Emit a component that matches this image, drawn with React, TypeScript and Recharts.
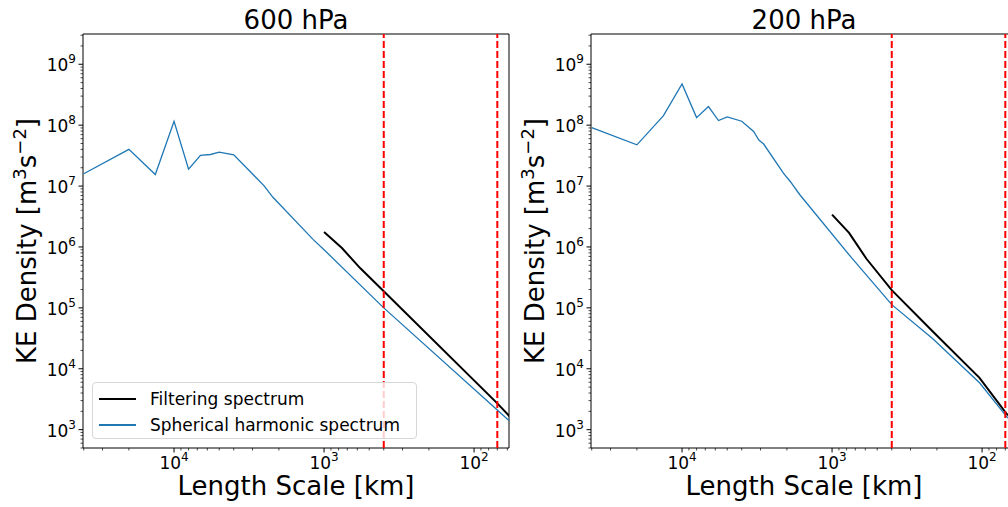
import React from 'react';
import { LineChart, Line, XAxis, YAxis, ReferenceLine, ReferenceArea } from 'recharts';

const FONT = '"DejaVu Sans", Verdana, sans-serif';
const BLUE = '#1f77b4';

// 600 hPa spectra (length scale in km, KE density)
const sh600Km = [40000, 20000, 13333, 10000, 8000, 6667, 5714, 5000, 4000, 2500, 2200, 1180, 1000, 400, 70, 58];
const sh600Ke = [1.59e7, 4.0e7, 1.55e7, 1.16e8, 1.9e7, 3.2e7, 3.3e7, 3.6e7, 3.25e7, 1.0e7, 6.6e6, 1.32e6, 9.0e5, 1.0e5, 2.1e3, 1.38e3];
const filt600Km = [1000, 760, 575, 400, 70, 58];
const filt600Ke = [1.76e6, 9.6e5, 4.5e5, 1.87e5, 2.7e3, 1.65e3];

// 200 hPa spectra
const sh200Km = [40000, 20000, 13333, 10000, 8000, 6667, 5714, 5000, 4000, 3333, 3077, 2857, 2110, 1900, 1640, 740, 400, 213, 104, 69, 58];
const sh200Ke = [9.1e7, 4.75e7, 1.42e8, 4.75e8, 1.33e8, 2.02e8, 1.19e8, 1.37e8, 1.16e8, 7.9e7, 5.7e7, 4.9e7, 1.63e7, 1.19e7, 7.2e6, 6.6e5, 1.13e5, 3.1e4, 5.9e3, 1.67e3, 1.1e3];
const filt200Km = [1000, 770, 590, 400, 213, 104, 69, 58];
const filt200Ke = [3.4e6, 1.7e6, 6.4e5, 1.95e5, 4.1e4, 7.1e3, 1.85e3, 1.25e3];

// dashed cutoff scales
const cutoffKm = [400, 70];

const xDomain: [number, number] = [58.5, 40450];
const yDomain: [number, number] = [500, 3.14e9];
const xMajorTicks = [1e2, 1e3, 1e4];
const yMajorTicks = [1e3, 1e4, 1e5, 1e6, 1e7, 1e8, 1e9];

const minorTicks = (lo: number, hi: number) => {
  const out: number[] = [];
  for (let e = Math.floor(Math.log10(lo)); e <= Math.ceil(Math.log10(hi)); e++) {
    for (let m = 2; m <= 9; m++) {
      const v = m * Math.pow(10, e);
      if (v >= lo && v <= hi) out.push(v);
    }
  }
  return out;
};

const xTicks = [...xMajorTicks, ...minorTicks(xDomain[0], xDomain[1])].sort((a, b) => a - b);
const yTicks = [...yMajorTicks, ...minorTicks(yDomain[0], yDomain[1])].sort((a, b) => a - b);

const toRows = (km: number[], ke: number[]) => km.map((k, i) => ({ km: k, ke: ke[i] }));

const isMajor = (v: number) => Math.abs(Math.log10(v) - Math.round(Math.log10(v))) < 1e-9;

const XTick = (props: any) => {
  const { x, y, payload } = props;
  const v = payload.value;
  const major = isMajor(v);
  return (
    <g>
      <line x1={x} x2={x} y1={y} y2={y + (major ? 4.5 : 2.5)} stroke="#000" strokeWidth={major ? 1 : 0.7} />
      {major && (
        <text x={x} y={y + 21} textAnchor="middle" fontSize={17} fontFamily={FONT} fill="#000">
          10<tspan dy={-8} fontSize={12}>{Math.round(Math.log10(v))}</tspan>
        </text>
      )}
    </g>
  );
};

const YTick = (props: any) => {
  const { x, y, payload } = props;
  const v = payload.value;
  const major = isMajor(v);
  return (
    <g>
      <line x1={x - (major ? 4.5 : 2.5)} x2={x} y1={y} y2={y} stroke="#000" strokeWidth={major ? 1 : 0.7} />
      {major && (
        <text x={x - 7} y={y + 7} textAnchor="end" fontSize={17} fontFamily={FONT} fill="#000">
          10<tspan dy={-8} fontSize={12}>{Math.round(Math.log10(v))}</tspan>
        </text>
      )}
    </g>
  );
};

const XLabel = (props: any) => {
  const vb = props.viewBox;
  return (
    <text x={vb.x + vb.width / 2} y={495} textAnchor="middle" fontSize={26} fontFamily={FONT} fill="#000">
      Length Scale [km]
    </text>
  );
};

const YLabel = (props: any) => {
  const vb = props.viewBox;
  const cx = 36;
  const cy = vb.y + vb.height / 2;
  return (
    <text
      x={cx}
      y={cy}
      transform={`rotate(-90, ${cx}, ${cy})`}
      textAnchor="middle"
      fontSize={26}
      fontFamily={FONT}
      fill="#000"
    >
      KE Density [m<tspan dy={-10} fontSize={18}>3</tspan>
      <tspan dy={10}>s</tspan>
      <tspan dy={-10} fontSize={18}>−2</tspan>
      <tspan dy={10}>]</tspan>
    </text>
  );
};

const Title = (text: string) => (props: any) => {
  const vb = props.viewBox;
  return (
    <text x={vb.x + vb.width / 2} y={vb.y - 5} textAnchor="middle" fontSize={26} fontFamily={FONT} fill="#000">
      {text}
    </text>
  );
};

type PanelProps = {
  title: string;
  sh: { km: number; ke: number }[];
  filt: { km: number; ke: number }[];
  left: number;
  legend?: boolean;
};

const Panel = ({ title, sh, filt, left, legend }: PanelProps) => (
  <div style={{ position: 'absolute', left, top: 0, width: 520, height: 507 }}>
    <LineChart width={520} height={507} margin={{ top: 34, right: 11, bottom: 0, left: 0 }}>
      <XAxis
        type="number"
        dataKey="km"
        scale="log"
        domain={xDomain}
        reversed
        allowDataOverflow
        ticks={xTicks}
        interval={0}
        tick={<XTick />}
        tickLine={false}
        tickSize={0}
        tickMargin={0}
        axisLine={false}
        height={59}
        label={{ content: XLabel }}
      />
      <YAxis
        type="number"
        dataKey="ke"
        scale="log"
        domain={yDomain}
        allowDataOverflow
        ticks={yTicks}
        interval={0}
        tick={<YTick />}
        tickLine={false}
        tickSize={0}
        tickMargin={0}
        axisLine={false}
        width={83}
        label={{ content: YLabel }}
      />
      <ReferenceArea
        x1={xDomain[0]}
        x2={xDomain[1]}
        y1={yDomain[0]}
        y2={yDomain[1]}
        fill="none"
        stroke="#000"
        strokeWidth={1}
        label={{ content: Title(title) }}
      />
      <Line data={filt} dataKey="ke" stroke="#000" strokeWidth={2} dot={false} type="linear" isAnimationActive={false} />
      <Line data={sh} dataKey="ke" stroke={BLUE} strokeWidth={1.3} dot={false} type="linear" isAnimationActive={false} />
      {cutoffKm.map((k) => (
        <ReferenceLine key={k} x={k} stroke="#ff0000" strokeWidth={2} strokeDasharray="7 3" />
      ))}
    </LineChart>
    {legend && (
      <div
        style={{
          position: 'absolute',
          left: 92,
          top: 382,
          width: 325,
          height: 57,
          boxSizing: 'border-box',
          border: '1px solid #d6d6d6',
          borderRadius: 4,
          background: 'rgba(255,255,255,0.8)',
          fontFamily: FONT,
          fontSize: 17,
          color: '#000',
        }}
      >
        {[
          { name: 'Filtering spectrum', color: '#000', w: 2 },
          { name: 'Spherical harmonic spectrum', color: BLUE, w: 1.3 },
        ].map((it, i) => (
          <div key={it.name} style={{ position: 'absolute', left: 0, top: 3 + i * 26, height: 26, display: 'flex', alignItems: 'center' }}>
            <div style={{ marginLeft: 6, width: 37, height: it.w, background: it.color }} />
            <span style={{ marginLeft: 14, whiteSpace: 'nowrap' }}>{it.name}</span>
          </div>
        ))}
      </div>
    )}
  </div>
);

export default function App() {
  return (
    <div style={{ position: 'fixed', left: 0, top: 0, width: 1008, height: 507, overflow: 'hidden', background: '#fff' }}>
      <Panel title="600 hPa" sh={toRows(sh600Km, sh600Ke)} filt={toRows(filt600Km, filt600Ke)} left={0} legend />
      <Panel title="200 hPa" sh={toRows(sh200Km, sh200Ke)} filt={toRows(filt200Km, filt200Ke)} left={508} />
    </div>
  );
}
